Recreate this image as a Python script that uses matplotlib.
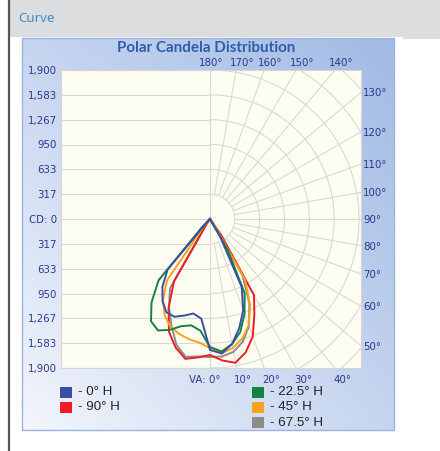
import numpy as np
import matplotlib
matplotlib.use("Agg")
import matplotlib.pyplot as plt
from matplotlib.patches import Rectangle

# ---------------- data ----------------
vertical_angles = [0, 5, 10, 15, 20, 25, 30, 35, 40, 45, 50, 55, 60, 65, 70, 75, 80, 85, 90]

series_names = ["0° H", "90° H", "22.5° H", "45° H", "67.5° H"]
series_colors = ["#3A4FA3", "#EE1C25", "#14833F", "#F8A31B", "#8C8C8C"]

# candela values (right half = C-plane, left half = opposite C-plane)
cd_0H_right = [1670, 1721, 1619, 1441, 1237, 956, 255, 0, 0, 0, 0, 0, 0, 0, 0, 0, 0, 0, 0]
cd_0H_left = [1670, 1275, 1224, 1275, 1326, 1313, 1211, 1058, 842, 38, 0, 0, 0, 0, 0, 0, 0, 0, 0]
cd_90H_right = [1734, 1811, 1862, 1760, 1594, 1339, 1122, 255, 0, 0, 0, 0, 0, 0, 0, 0, 0, 0, 0]
cd_90H_left = [1734, 1772, 1811, 1696, 1530, 1250, 918, 64, 0, 0, 0, 0, 0, 0, 0, 0, 0, 0, 0]
cd_22H_right = [1632, 1696, 1619, 1492, 1288, 1046, 446, 0, 0, 0, 0, 0, 0, 0, 0, 0, 0, 0, 0]
cd_22H_left = [1632, 1428, 1377, 1415, 1505, 1568, 1505, 1301, 1020, 128, 0, 0, 0, 0, 0, 0, 0, 0, 0]
cd_45H_right = [1645, 1721, 1670, 1581, 1441, 1211, 893, 102, 0, 0, 0, 0, 0, 0, 0, 0, 0, 0, 0]
cd_45H_left = [1645, 1581, 1556, 1517, 1466, 1364, 1199, 956, 128, 0, 0, 0, 0, 0, 0, 0, 0, 0, 0]
cd_67H_right = [1760, 1760, 1721, 1619, 1454, 1186, 829, 64, 0, 0, 0, 0, 0, 0, 0, 0, 0, 0, 0]
cd_67H_left = [1760, 1760, 1785, 1658, 1441, 1237, 1020, 64, 0, 0, 0, 0, 0, 0, 0, 0, 0, 0, 0]

series_right = [cd_0H_right, cd_90H_right, cd_22H_right, cd_45H_right, cd_67H_right]
series_left = [cd_0H_left, cd_90H_left, cd_22H_left, cd_45H_left, cd_67H_left]

cd_max = 1900
cd_ticks = [1900, 1583, 1267, 950, 633, 317]
va_labels_top = [180, 170, 160, 150, 140]
va_labels_right = [130, 120, 110, 100, 90, 80, 70, 60, 50]
va_labels_bottom = [0, 10, 20, 30, 40]

# ---------------- figure ----------------
W, H = 440, 451
fig = plt.figure(figsize=(W / 100, H / 100), dpi=100)
fig.patch.set_facecolor("white")

bg = fig.add_axes([0, 0, 1, 1])
bg.set_xlim(0, W)
bg.set_ylim(H, 0)
bg.axis("off")

# header band
bg.add_patch(Rectangle((9, 0), W - 9, 37, facecolor="#DCDDDF", edgecolor="none"))
bg.add_patch(Rectangle((403, 37), W - 403, 1.5, facecolor="#DCDDDF", edgecolor="none"))
bg.plot([8.5, 8.5], [0, H], color="#555555", lw=1.6)
bg.text(18, 18.5, "Curve", color="#3A8ECF", fontsize=9.6, family="Noto Sans",
        va="center", ha="left")

# panel with gradient
px0, px1, py0, py1 = 22, 394, 38, 430
ny, nx = 60, 60
u = np.linspace(0, 1, nx)[None, :, None]
v = np.linspace(0, 1, ny)[:, None, None]
TL = np.array([198, 213, 240]) / 255
TR = np.array([162, 186, 228]) / 255
BL = np.array([242, 245, 252]) / 255
BR = np.array([198, 213, 239]) / 255
grad = (1 - v) * ((1 - u) * TL + u * TR) + v * ((1 - u) * BL + u * BR)
bg.imshow(grad, extent=[px0, px1, py1, py0], aspect="auto", interpolation="bilinear", zorder=1)
bg.add_patch(Rectangle((px0, py0), px1 - px0, py1 - py0, facecolor="none",
                       edgecolor="#9CB3DF", lw=1.0, zorder=2))

bg.text(206, 48.5, "Polar Candela Distribution", color="#2F5EA8", fontsize=10.9,
        family=["Lato", "DejaVu Sans"], fontweight="bold", ha="center", va="center", zorder=3)

# ---------------- plot area ----------------
L, R, T, B = 61, 361, 70, 368
cx_px, cy_px = 210, 219
scale = cd_max / (cy_px - T)   # cd per pixel
ax = fig.add_axes([L / W, (H - B) / H, (R - L) / W, (B - T) / H])
ax.set_facecolor("#FDFDF1")
xmin = -(cx_px - L) * scale
xmax = (R - cx_px) * scale
ax.set_xlim(xmin, xmax)
ax.set_ylim(-cd_max, cd_max)
for s in ax.spines.values():
    s.set_color("#D6D6D6")
    s.set_linewidth(0.8)
ax.set_xticks([])

grid_c = "#D9D9D9"
step = cd_max / 6
# left half: rectangular grid
for k in range(-6, 7):
    ax.plot([xmin, 0], [k * step, k * step], color=grid_c, lw=0.8, zorder=1)
ax.plot([0, 0], [-cd_max, cd_max], color=grid_c, lw=0.8, zorder=1)
# right half: polar grid
th = np.radians(np.linspace(0, 180, 361))
for k in range(1, 10):
    r = k * step
    ax.plot(r * np.sin(th), -r * np.cos(th), color=grid_c, lw=0.8, zorder=1)
for g in range(0, 181, 10):
    gr = np.radians(g)
    ax.plot([step * np.sin(gr), 4000 * np.sin(gr)], [-step * np.cos(gr), -4000 * np.cos(gr)],
            color=grid_c, lw=0.8, zorder=1)

# y tick labels
yt = [c for c in cd_ticks] + [0] + [-c for c in reversed(cd_ticks)]
ylab = [f"{c:,}" for c in cd_ticks] + ["CD: 0"] + [f"{c:,}" for c in reversed(cd_ticks)]
ax.set_yticks(yt)
ax.set_yticklabels(ylab)
ax.tick_params(axis="y", length=0, pad=3, labelsize=7.4, labelcolor="#2B3990")

lab_kw = dict(color="#2B3990", fontsize=7.4, clip_on=False)
for g in va_labels_top:
    gr = np.radians(g)
    x = -cd_max * np.tan(gr)
    ax.text(x + (1 if g == 180 else 6) * scale, cd_max + 6.5 * scale, f"{g}°",
            ha="center", va="center", **lab_kw)
for g in va_labels_right:
    gr = np.radians(g)
    y = -xmax / np.tan(gr)
    ax.text(xmax + 2 * scale, y - 1 * scale, f"{g}°", ha="left", va="center", **lab_kw)
for g in va_labels_bottom:
    gr = np.radians(g)
    x = cd_max * np.tan(gr)
    if g == 0:
        ax.text(x + 10 * scale, -cd_max - 12 * scale, "VA: 0°", ha="right", va="center", **lab_kw)
    else:
        ax.text(x + 7 * scale, -cd_max - 12 * scale, f"{g}°", ha="center", va="center", **lab_kw)

# curves
va = np.radians(np.array(vertical_angles, dtype=float))
order = [4, 1, 3, 2, 0]
for i in order:
    r_right = np.array(series_right[i], dtype=float)
    r_left = np.array(series_left[i], dtype=float)
    xl = -r_left * np.sin(va)
    yl = -r_left * np.cos(va)
    xr = r_right * np.sin(va)
    yr = -r_right * np.cos(va)
    xs = np.concatenate([xl[::-1], xr])
    ys = np.concatenate([yl[::-1], yr])
    ax.plot(xs, ys, color=series_colors[i], lw=1.4, zorder=3, solid_joinstyle="miter")

# ---------------- legend ----------------
leg_pos = [(60, 392), (60, 407.5), (252, 392), (252, 407.5), (252, 422.5)]
for i, (lx, ly) in enumerate(leg_pos):
    bg.add_patch(Rectangle((lx, ly - 5.5), 11.5, 11, facecolor=series_colors[i],
                           edgecolor="none", zorder=3))
    bg.text(lx + 18, ly, "- " + series_names[i], fontsize=9.6, family="Liberation Sans",
            color="#222222", ha="left", va="center", zorder=3)

fig.savefig("out.png", dpi=100)
